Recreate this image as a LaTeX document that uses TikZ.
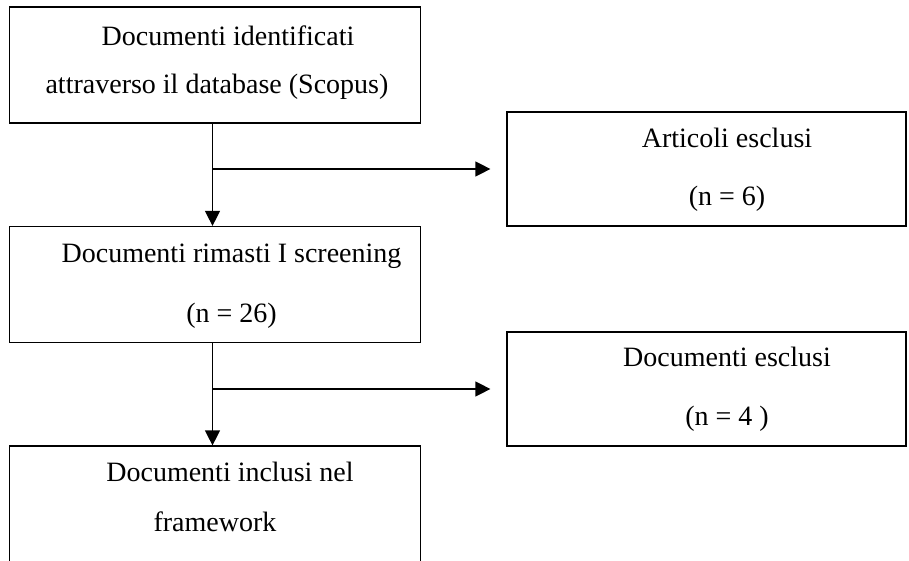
\documentclass[tikz,border=0pt]{standalone}
\usepackage{fontspec}
\setmainfont{Liberation Serif}
\usetikzlibrary{arrows.meta, positioning}

\begin{document}
\begin{tikzpicture}[
  x=0.5pt, y=-0.5pt,
  box/.style={draw=black, line width=0.6pt, minimum width=205.75pt,
              minimum height=58pt, inner sep=0pt},
  exbox/.style={box, minimum width=199.5pt, minimum height=57pt},
  txt/.style={align=center, inner sep=0pt, font=\fontsize{14}{#1}\selectfont},
  arr/.style={-{Triangle[length=7.5pt, width=7.5pt]}, line width=0.6pt, black}
]
\useasboundingbox (0,0) rectangle (909,561);
\clip (0,0) rectangle (909,561);
% boxes
\node[box]                      (ident) at (215,65)    {};
\node[exbox]                    (artex) at (706.5,169) {};
\node[box]                      (scrn)  at (215,284.5) {};
\node[exbox]                    (docex) at (706.5,389) {};
\node[box, minimum height=65pt] (incl)  at (215,511)   {};
% texts
\node[txt=24pt]   (identtxt) at (217,62.5)  {\hspace*{11pt}Documenti identificati\\attraverso il database (Scopus)};
\node[txt=29pt]   (artextxt) at (727,169.5) {Articoli esclusi\\(n = 6)};
\node[txt=30pt]   (scrntxt)  at (231.5,286) {Documenti rimasti I screening\\(n = 26)};
\node[txt=29.5pt] (docextxt) at (727,389.5) {Documenti esclusi\\(n = 4 )};
\node[txt=25pt]   (incltxt)  at (215,497)   {\hspace*{15pt}Documenti inclusi nel\\framework};
% arrows
\draw[arr] ([xshift=-1.25pt]ident.south) -- ([xshift=-1.25pt]scrn.north);
\draw[arr] ([xshift=-1.25pt]ident.south |- artex.west) -- ([xshift=-8pt]artex.west);
\draw[arr] ([xshift=-1.25pt]scrn.south) -- ([xshift=-1.25pt]incl.north);
\draw[arr] ([xshift=-1.25pt]scrn.south |- docex.west) -- ([xshift=-8pt]docex.west);
\end{tikzpicture}
\end{document}
